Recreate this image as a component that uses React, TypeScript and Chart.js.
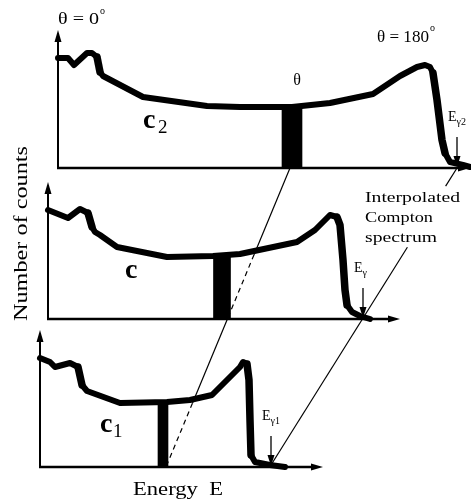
import React, { useEffect, useRef } from "react";
import { Chart, registerables } from "chart.js";

Chart.register(...registerables);

// ---------------- data (energy in channels, counts in arbitrary units) ----------------
// spectrum c2 (top, θ = 0° ... 180° with gamma energy Eγ2)
const energyC2 = [0, 10, 16, 29, 34, 39, 42, 45, 85, 149, 182, 234, 272, 315, 342, 359, 367, 372, 375, 379, 384, 387, 392, 405, 412];
const countsC2 = [110, 110, 103, 115, 115, 111, 96, 92, 71, 62, 61, 61, 65, 74, 92, 101, 103, 101, 95, 68, 28, 15, 6, 3, 1];
// spectrum c (middle, interpolated)
const energyC = [0, 20, 32, 40, 44, 47, 52, 69, 119, 165, 192, 249, 267, 282, 289, 292, 295, 297, 299, 304, 312, 322];
const countsC = [109, 101, 110, 106, 92, 87, 84, 72, 62, 63, 65, 77, 89, 104, 102, 94, 59, 29, 14, 7, 3, 0];
// spectrum c1 (bottom, gamma energy Eγ1)
const energyC1 = [0, 10, 15, 30, 38, 42, 47, 80, 127, 150, 172, 200, 203, 207, 209, 210, 211, 215, 230, 245];
const countsC1 = [109, 105, 100, 104, 100, 82, 76, 64, 65, 67, 72, 100, 105, 103, 87, 47, 12, 5, 2, 0];

// counts in the window of scattering angle θ (one per spectrum: c2, c, c1)
const thetaEnergies = [234, 174, 123];
const thetaCounts = [61, 63, 65];
// Compton edges Eγ2, Eγ, Eγ1
const edgeEnergies = [399, 315, 231];
const edgeSubscripts = ["γ2", "γ", "γ1"];
const panelNames = ["c", "c", "c"];
const panelSubscripts = ["2", "", "1"];
// axis extents (data units)
const axisEnergyMax = [412, 352, 283];
const axisCountsMax = [138, 137, 137];

// ---------------- layout / style ----------------
const W = 471;
const H = 502;
const PANEL_LEFT = [58, 48, 40];
const PANEL_BASE = [168, 319, 467];
const BAR_WIDTH = [20, 17, 10];
const CURVE_WIDTH = [6, 6, 6];
const INK = "#000";
const SERIF = '"Liberation Serif", "DejaVu Serif", serif';
const NAME_POS = [
  [143, 128, 158, 133],
  [125, 278, 0, 0],
  [100, 432, 113, 437],
];

function arrowHead(ctx: CanvasRenderingContext2D, x: number, y: number, dir: string, len: number, half: number) {
  ctx.beginPath();
  if (dir === "right") {
    ctx.moveTo(x, y);
    ctx.lineTo(x - len, y - half);
    ctx.lineTo(x - len, y + half);
  } else if (dir === "up") {
    ctx.moveTo(x, y);
    ctx.lineTo(x - half, y + len);
    ctx.lineTo(x + half, y + len);
  } else {
    ctx.moveTo(x, y);
    ctx.lineTo(x - half, y - len);
    ctx.lineTo(x + half, y - len);
  }
  ctx.closePath();
  ctx.fill();
}

function text(ctx: CanvasRenderingContext2D, s: string, x: number, y: number, size: number, width?: number, align: CanvasTextAlign = "left", weight = "normal") {
  ctx.save();
  ctx.font = `${weight} ${size}px ${SERIF}`;
  ctx.textAlign = align;
  ctx.textBaseline = "alphabetic";
  const m = ctx.measureText(s).width;
  const sx = width ? width / m : 1;
  ctx.translate(x, y);
  ctx.scale(sx, 1);
  ctx.fillText(s, 0, 0);
  ctx.restore();
  return m * sx;
}

function curveYAt(pts: { x: number; y: number }[], x: number): number | null {
  for (let k = 0; k < pts.length - 1; k++) {
    const a = pts[k];
    const b = pts[k + 1];
    if (x >= a.x && x <= b.x && b.x > a.x) {
      return a.y + ((b.y - a.y) * (x - a.x)) / (b.x - a.x);
    }
  }
  return null;
}

const overlayPlugin = {
  id: "overlay",
  afterDraw(chart: any) {
    const ctx: CanvasRenderingContext2D = chart.ctx;
    const px = (i: number, e: number) => chart.scales["x" + i].getPixelForValue(e);
    const py = (i: number, n: number) => chart.scales["y" + i].getPixelForValue(n);
    ctx.save();
    ctx.fillStyle = INK;
    ctx.strokeStyle = INK;

    // axes with arrows
    for (let i = 0; i < 3; i++) {
      const x0 = px(i, 0);
      const y0 = py(i, 0);
      const xe = px(i, axisEnergyMax[i]);
      const yt = py(i, axisCountsMax[i]);
      ctx.lineWidth = 2.4;
      ctx.beginPath();
      ctx.moveTo(x0 - 1, y0);
      ctx.lineTo(xe - 8, y0);
      ctx.stroke();
      ctx.lineWidth = 2;
      ctx.beginPath();
      ctx.moveTo(x0, y0 + 1);
      ctx.lineTo(x0, yt + 8);
      ctx.stroke();
      arrowHead(ctx, xe, y0, "right", 12, 3.5);
      arrowHead(ctx, x0, yt, "up", 12, 3.5);
    }

    // Compton edge arrows + labels
    for (let i = 0; i < 3; i++) {
      const xe = px(i, edgeEnergies[i]);
      const yb = py(i, 0);
      ctx.lineWidth = 1.3;
      ctx.beginPath();
      ctx.moveTo(xe, yb - 31);
      ctx.lineTo(xe, yb - 9);
      ctx.stroke();
      arrowHead(ctx, xe, yb - 1, "down", 11, 3.5);
      const w = text(ctx, "E", xe - 9, yb - 47, 14);
      text(ctx, edgeSubscripts[i], xe - 9 + w, yb - 43, 10);
    }

    // line through the θ windows (solid outside spectra, dashed under them)
    const curves = [0, 1, 2].map((i) =>
      chart.getDatasetMeta(i).data.map((p: any) => ({ x: p.x, y: p.y }))
    );
    const under = (x: number, y: number) => {
      for (let i = 0; i < 3; i++) {
        const cy = curveYAt(curves[i], x);
        if (cy !== null && y > cy + 3.5 && y < PANEL_BASE[i] - 1) return true;
      }
      return false;
    };
    const drawRuns = (ax: number, ay: number, bx: number, by: number, state: (x: number, y: number) => string) => {
      const N = 900;
      let runStart = 0;
      let cur = state(ax, ay);
      const flush = (t0: number, t1: number, st: string) => {
        if (st === "skip") return;
        ctx.setLineDash(st === "dash" ? [5, 4] : []);
        ctx.beginPath();
        ctx.moveTo(ax + (bx - ax) * t0, ay + (by - ay) * t0);
        ctx.lineTo(ax + (bx - ax) * t1, ay + (by - ay) * t1);
        ctx.stroke();
      };
      for (let k = 1; k <= N; k++) {
        const t = k / N;
        const st = state(ax + (bx - ax) * t, ay + (by - ay) * t);
        if (st !== cur || k === N) {
          flush(runStart, t, cur);
          runStart = t;
          cur = st;
        }
      }
      ctx.setLineDash([]);
    };
    ctx.lineWidth = 1.2;
    drawRuns(
      px(0, thetaEnergies[0]) - 2, py(0, 0),
      px(2, thetaEnergies[2]) + 3, py(2, 0),
      (x, y) => (under(x, y) ? "dash" : "solid")
    );

    // interpolated Compton spectrum line (through the three edges), interrupted by its label
    const gap = { x0: 360, x1: 466, y0: 186, y1: 247 };
    drawRuns(
      px(0, edgeEnergies[0]), py(0, 0),
      px(2, edgeEnergies[2]), py(2, 0) - 2,
      (x, y) => (x > gap.x0 && x < gap.x1 && y > gap.y0 && y < gap.y1 ? "skip" : "solid")
    );

    // texts
    text(ctx, "θ = 0", 58, 24, 17, 41);
    text(ctx, "o", 100, 14, 10);
    text(ctx, "θ = 180", 377, 42, 17, 52);
    text(ctx, "o", 430, 31, 10);
    text(ctx, "θ", px(0, thetaEnergies[0]) + 5, 85, 16, undefined, "center");
    for (let i = 0; i < 3; i++) {
      const [cx, cy, sx, sy] = NAME_POS[i];
      text(ctx, panelNames[i], cx, cy, 28, undefined, "left", "bold");
      if (panelSubscripts[i]) text(ctx, panelSubscripts[i], sx, sy, 19);
    }
    text(ctx, "Interpolated", 365, 202, 15, 95);
    text(ctx, "Compton", 365, 222, 15, 68);
    text(ctx, "spectrum", 365, 242, 15, 72);
    text(ctx, "Energy  E", 133, 495, 18, 90);
    ctx.save();
    ctx.translate(27, 234 + 87);
    ctx.rotate(-Math.PI / 2);
    text(ctx, "Number of counts", 0, 0, 18, 175);
    ctx.restore();

    ctx.restore();
  },
};

export default function App() {
  const ref = useRef<HTMLCanvasElement | null>(null);

  useEffect(() => {
    if (!ref.current) return;
    const series = [
      [energyC2, countsC2],
      [energyC, countsC],
      [energyC1, countsC1],
    ];
    const datasets: any[] = [];
    series.forEach(([e, c], i) => {
      datasets.push({
        type: "line",
        data: e.map((v, k) => ({ x: v, y: c[k] })),
        xAxisID: "x" + i,
        yAxisID: "y" + i,
        borderColor: INK,
        borderWidth: CURVE_WIDTH[i],
        borderJoinStyle: "round",
        borderCapStyle: "round",
        pointRadius: 0,
        tension: 0,
        fill: false,
        segment: {
          borderWidth: (s: any) =>
            Math.abs(s.p1.y - s.p0.y) > 2.5 * Math.abs(s.p1.x - s.p0.x) ? CURVE_WIDTH[i] + 1.5 : CURVE_WIDTH[i],
        },
      });
    });
    thetaEnergies.forEach((e, i) => {
      datasets.push({
        type: "bar",
        data: [{ x: e, y: thetaCounts[i] }],
        xAxisID: "x" + i,
        yAxisID: "y" + i,
        backgroundColor: INK,
        borderWidth: 0,
        grouped: false,
        barThickness: BAR_WIDTH[i],
      });
    });
    const scales: any = {};
    for (let i = 0; i < 3; i++) {
      scales["x" + i] = {
        type: "linear",
        axis: "x",
        display: false,
        bounds: "data",
        offset: false,
        grid: { offset: false },
        min: -PANEL_LEFT[i],
        max: W - PANEL_LEFT[i],
      };
      scales["y" + i] = {
        type: "linear",
        axis: "y",
        display: false,
        bounds: "data",
        offset: false,
        min: PANEL_BASE[i] - H,
        max: PANEL_BASE[i],
      };
    }
    const chart = new Chart(ref.current, {
      type: "line",
      data: { datasets },
      options: {
        animation: false,
        responsive: false,
        devicePixelRatio: 1,
        layout: { padding: 0 },
        scales,
        plugins: { legend: { display: false }, tooltip: { enabled: false } },
      },
      plugins: [overlayPlugin],
    } as any);
    return () => chart.destroy();
  }, []);

  return (
    <div style={{ position: "fixed", left: 0, top: 0, width: W, height: H, background: "#fff" }}>
      <canvas ref={ref} width={W} height={H} style={{ display: "block" }} />
    </div>
  );
}
